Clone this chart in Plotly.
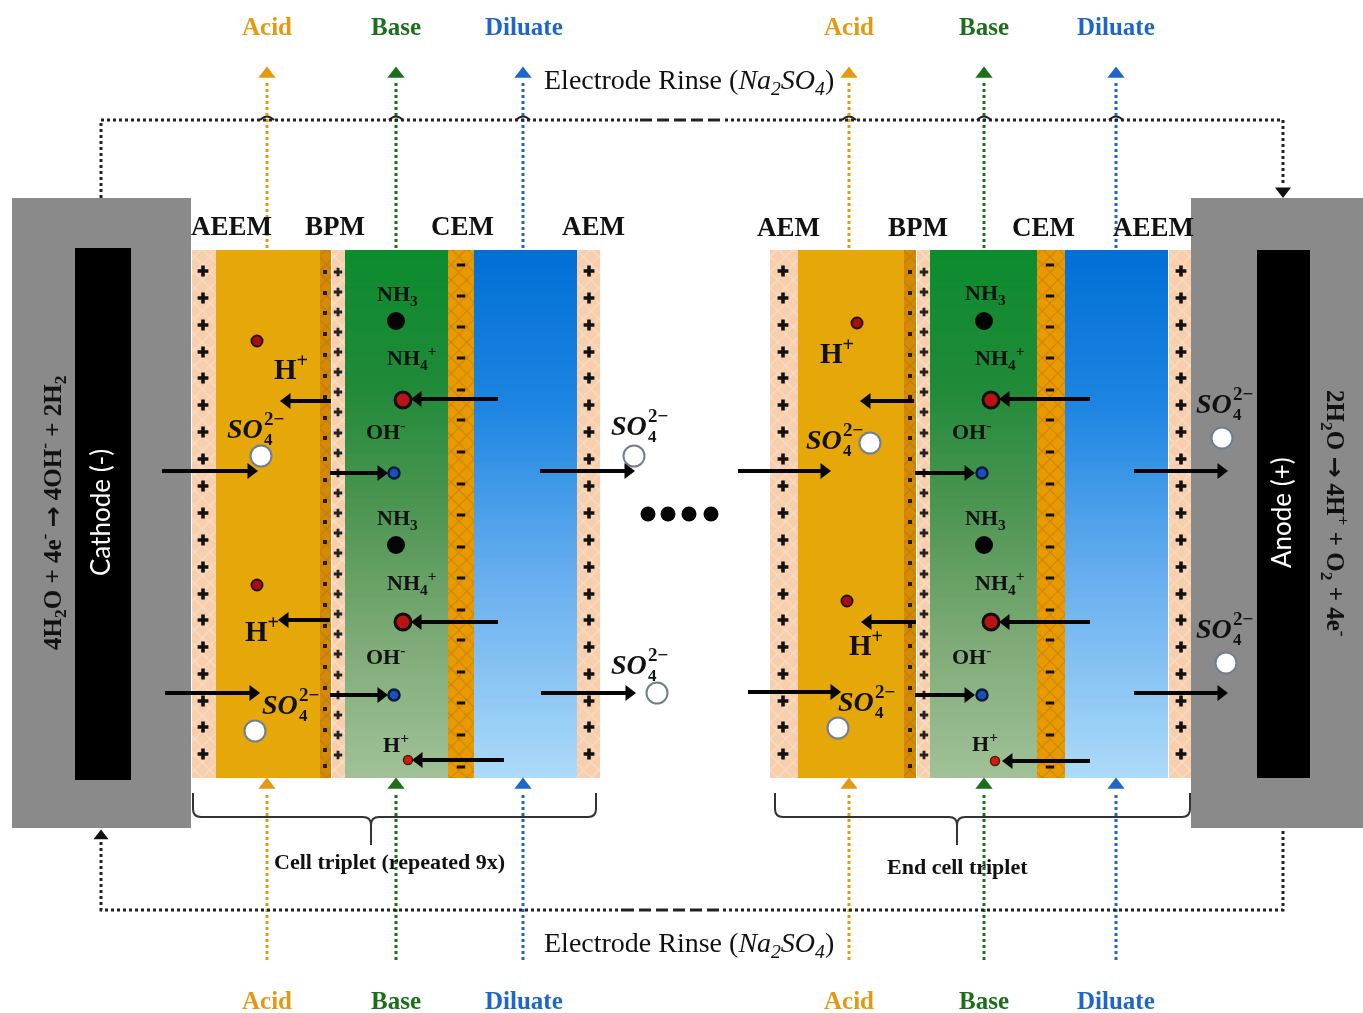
import numpy as np
import plotly.graph_objects as go

SERIF = "Liberation Serif"
SANS = "Lato"
ACID, BASE, DIL = "#E39A12", "#1B6F1B", "#1F66C8"

# ---- membrane / chamber bands: x0, x1, fill, hatch colour
Y_TOP, Y_BOT = [250, 250], [778, 778]
plain_bands = [(216, 320, "#E6A708"), (798, 904, "#E6A708")]
hatched_bands = [
    (192, 216, "#F7CFAD", "#FDEDDE"), (320, 331, "#D58A06", "#A86A04"), (332, 345, "#F7CFAD", "#FFF4EA"),
    (448, 474, "#E89A00", "#AD6E04"), (577, 600, "#F7CFAD", "#FDEDDE"),
    (770, 798, "#F7CFAD", "#FDEDDE"), (904, 916, "#D58A06", "#A86A04"), (917, 930, "#F7CFAD", "#FFF4EA"),
    (1037, 1065, "#E89A00", "#AD6E04"), (1169, 1191, "#F7CFAD", "#FDEDDE"),
]
green_bands = [(345, 448), (930, 1037)]
blue_bands = [(474, 577), (1065, 1168)]
GREEN_SCALE = [[0, "#0C8C2E"], [0.25, "#1F8A38"], [0.5, "#4F9653"], [0.75, "#7FAB78"], [1, "#A0C197"]]
BLUE_SCALE = [[0, "#006FD6"], [0.3, "#1E86E2"], [0.6, "#63ACEE"], [1, "#ACDAF9"]]

# ---- fixed charges
plus_wide_x = [203, 589, 783, 1181]
plus_wide_y = [271, 298, 325, 352, 378, 405, 432, 459, 486, 513, 540, 567, 594, 620, 647, 674, 701, 727, 754]
plus_bpm_x = [338, 924]
plus_bpm_y = [272, 292, 312, 332, 352, 372, 392, 412, 433, 453, 473, 493, 513, 533, 553, 574, 594, 614, 634, 654, 675, 695, 715, 735, 755]
dots_bpm_x = [325, 910]
dots_bpm_y = [272, 293, 313, 334, 355, 376, 397, 418, 438, 459, 480, 501, 522, 542, 563, 584, 605, 626, 646, 667, 688, 709, 730, 750, 766]
minus_x = [461, 1050]
minus_y = [265, 296, 327, 358, 390, 420, 452, 484, 515, 547, 578, 610, 640, 672, 703, 735, 767]

# ---- dotted flows
flow_x = [[267, 849], [396, 984], [523, 1116]]
flow_colors = [ACID, BASE, DIL]
FLOW_TOP_SPAN = [248, 80]
FLOW_BOT_SPAN = [960, 792]
FLOW_TOP_HEAD, FLOW_BOT_HEAD = 74, 785

# ---- electrode rinse loop
rinse_top_x, rinse_top_y = [101, 101, 1283, 1283], [198, 120, 120, 186]
rinse_bot_x, rinse_bot_y = [101, 101, 1283, 1283], [842, 910, 910, 828]
rinse_dash_top_x, rinse_dash_top_y = [640, 722], [120, 120]
rinse_dash_bot_x, rinse_dash_bot_y = [622, 722], [910, 910]

# ---- horizontal arrows: start, end, y
arrows_right = [(162, 248, 471), (330, 378, 473), (540, 625, 471), (738, 821, 471), (915, 965, 473), (1134, 1218, 471),
                (165, 250, 693), (330, 378, 695), (541, 626, 693), (748, 831, 692), (915, 965, 695), (1134, 1218, 693)]
arrows_left = [(331, 290, 401), (498, 421, 399), (330, 288, 620), (498, 421, 622), (504, 422, 760),
               (914, 870, 401), (1090, 1009, 399), (916, 871, 622), (1090, 1009, 622), (1090, 1012, 761)]

# ---- species
h_dark_x, h_dark_y = [257, 257, 857, 847], [341, 585, 323, 601]
nh3_x, nh3_y = [396, 396, 984, 984], [321, 545, 321, 545]
red_x, red_y = [403, 403, 991, 991], [400, 622, 400, 622]
blue_x, blue_y = [394, 394, 982, 982], [473, 695, 473, 695]
hs_x, hs_y = [408, 995], [760, 761]
so4_x, so4_y = [261, 634, 870, 1222, 255, 657, 838, 1226], [456, 456, 443, 438, 731, 693, 728, 663]
ell_x, ell_y = [648, 668, 689, 711], [514, 514, 514, 514]

# ---- labels
header_labels = ["AEEM", "BPM", "CEM", "AEM", "AEM", "BPM", "CEM", "AEEM"]
header_x = [231, 335, 462, 593, 788, 918, 1043, 1153]
header_y = [226, 226, 226, 226, 227, 227, 227, 227]
stream_labels = ["Acid", "Base", "Diluate", "Acid", "Base", "Diluate"]
stream_x = [267, 396, 524, 849, 984, 1116]
stream_colors = [ACID, BASE, DIL, ACID, BASE, DIL]
stream_y = [26, 1000]
so4_label_x = [225, 609, 804, 1194, 260, 609, 836, 1194]
so4_label_y = [428, 425, 439, 403, 704, 664, 701, 628]
chem_text = ["NH<sub>3</sub>", "NH<sub>4</sub><sup>+</sup>", "OH<sup>-</sup>"] * 4
chem_x = [397, 411, 385, 397, 411, 385, 985, 999, 971, 985, 999, 971]
chem_y = [295, 357, 430, 519, 582, 655, 294, 357, 430, 519, 582, 655]
h_big_x, h_big_y = [291, 262, 837, 866], [367, 629, 351, 643]
h_small_x, h_small_y = [396, 985], [743, 742]

fig = go.Figure()

# flows
for xs, col in zip(flow_x, flow_colors):
    for x in xs:
        for span in (FLOW_TOP_SPAN, FLOW_BOT_SPAN):
            fig.add_trace(go.Scatter(x=[x, x], y=span, mode="lines", line=dict(color=col, width=3, dash="dot"), hoverinfo="skip"))
    fig.add_trace(go.Scatter(x=xs + xs, y=[FLOW_TOP_HEAD] * 2 + [FLOW_BOT_HEAD] * 2, mode="markers",
                             marker=dict(symbol="triangle-up", size=15, color=col), hoverinfo="skip"))

# rinse loop
for xs, ys in ((rinse_top_x, rinse_top_y), (rinse_bot_x, rinse_bot_y)):
    fig.add_trace(go.Scatter(x=xs, y=ys, mode="lines", line=dict(color="#222222", width=3, dash="dot"), hoverinfo="skip"))
for xs, ys in ((rinse_dash_top_x, rinse_dash_top_y), (rinse_dash_bot_x, rinse_dash_bot_y)):
    fig.add_trace(go.Scatter(x=xs, y=ys, mode="lines", line=dict(color="white", width=5), hoverinfo="skip"))
    fig.add_trace(go.Scatter(x=xs, y=ys, mode="lines", line=dict(color="#222222", width=3, dash="12px,5px"), hoverinfo="skip"))
fig.add_trace(go.Scatter(x=[1283], y=[191], mode="markers", marker=dict(symbol="triangle-down", size=14, color="#111111"), hoverinfo="skip"))
fig.add_trace(go.Scatter(x=[101], y=[836], mode="markers", marker=dict(symbol="triangle-up", size=13, color="#111111"), hoverinfo="skip"))

# chambers
for x0, x1, col in plain_bands:
    fig.add_trace(go.Bar(x=[(x0 + x1) / 2], y=[Y_BOT[0] - Y_TOP[0]], base=[Y_TOP[0]], width=[x1 - x0],
                         marker=dict(color=col, line_width=0), hoverinfo="skip"))
for bands, scale in ((green_bands, GREEN_SCALE), (blue_bands, BLUE_SCALE)):
    rows = np.linspace(Y_TOP[0], Y_BOT[0], 133)
    z = [[v] for v in np.linspace(0, 1, 132)]
    for x0, x1 in bands:
        fig.add_trace(go.Heatmap(x=[x0, x1], y=rows, z=z, colorscale=scale, zmin=0, zmax=1, showscale=False, hoverinfo="skip"))
for x0, x1, col, fg in hatched_bands:
    fig.add_trace(go.Bar(x=[(x0 + x1) / 2], y=[Y_BOT[0] - Y_TOP[0]], base=[Y_TOP[0]], width=[x1 - x0],
                         marker=dict(color=col, line_width=0, pattern=dict(shape="x", fgcolor=fg, bgcolor=col, size=11, solidity=0.2)),
                         hoverinfo="skip"))

# charges
def markers(xs, ys, symbol, size, color="black", lc=None, lw=0):
    fig.add_trace(go.Scatter(x=xs, y=ys, mode="markers", hoverinfo="skip",
                             marker=dict(symbol=symbol, size=size, color=color, line=dict(color=lc or color, width=lw))))

for x in plus_wide_x:
    markers([x] * len(plus_wide_y), plus_wide_y, "cross", 9, "#111111")
for x in plus_bpm_x:
    markers([x] * len(plus_bpm_y), plus_bpm_y, "cross", 7, "#222222")
for x in dots_bpm_x:
    markers([x] * len(dots_bpm_y), dots_bpm_y, "square", 4, "#2A1A00")
for x in minus_x:
    markers([x] * len(minus_y), minus_y, "line-ew", 6, "#111111", "#111111", 3)

# species
markers(h_dark_x, h_dark_y, "circle", 11, "#A80F0F", "#2A1000", 2)
markers(nh3_x, nh3_y, "circle", 18, "#050505")
markers(red_x, red_y, "circle", 16, "#B81414", "#101010", 3)
markers(blue_x, blue_y, "circle", 11, "#1A4FC4", "#0A1A33", 2.5)
markers(hs_x, hs_y, "circle", 9, "#E01414", "#3A2A00", 1.5)
markers(so4_x, so4_y, "circle", 21, "white", "#6F7F8F", 2)
markers(ell_x, ell_y, "circle", 15, "#050505")

# arrows
def arrows(items, symbol, sign):
    lx, ly, hx, hy = [], [], [], []
    for a, b, y in items:
        lx += [a, b, None]
        ly += [y, y, None]
        hx.append(b + sign * 3)
        hy.append(y)
    fig.add_trace(go.Scatter(x=lx, y=ly, mode="lines", line=dict(color="#050505", width=4), hoverinfo="skip"))
    markers(hx, hy, symbol, 14, "#050505")

arrows(arrows_right, "triangle-right", 1)
arrows(arrows_left, "triangle-left", -1)

shapes = [
    dict(type="rect", x0=12, x1=191, y0=198, y1=828, fillcolor="#8A8A8A", line_width=0, layer="below"),
    dict(type="rect", x0=1191, x1=1363, y0=198, y1=828, fillcolor="#8A8A8A", line_width=0, layer="below"),
    dict(type="rect", x0=75, x1=131, y0=248, y1=780, fillcolor="#000000", line_width=0, layer="below"),
    dict(type="rect", x0=1257, x1=1310, y0=250, y1=778, fillcolor="#000000", line_width=0, layer="below"),
    dict(type="path", path="M193,793 V809 Q193,817 201,817 H363 Q371,817 371,825 V845 M371,825 Q371,817 379,817 H588 Q596,817 596,809 V793",
         line=dict(color="#333333", width=2)),
    dict(type="path", path="M775,793 V809 Q775,817 783,817 H949 Q957,817 957,825 V845 M957,825 Q957,817 965,817 H1182 Q1190,817 1190,809 V793",
         line=dict(color="#333333", width=2)),
]
for xs in flow_x:
    for x in xs:
        shapes.append(dict(type="path", path=f"M{x-7},120 Q{x},113 {x+7},120", line=dict(color="#222222", width=2), layer="below"))

anns = []
def label(x, y, text, size=24, color="#111111", bold=True, rot=0, family=SERIF, xanchor="center", italic=False):
    anns.append(dict(x=x, y=y, xref="x", yref="y", text=text, showarrow=False,
                     font=dict(family=family, size=size, color=color, weight="bold" if bold else "normal",
                               style="italic" if italic else "normal"),
                     textangle=rot, xanchor=xanchor, yanchor="middle"))

for t, x, y in zip(header_labels, header_x, header_y):
    label(x, y, t, 27)
for t, x, c in zip(stream_labels, stream_x, stream_colors):
    for y in stream_y:
        label(x, y, t, 25, c)
for x, y in zip(so4_label_x, so4_label_y):
    label(x, y, "SO", 28, xanchor="left", italic=True)
    label(x + 37, y - 10, "2−", 19, xanchor="left")
    label(x + 37, y + 11, "4", 17, xanchor="left")
for t, x, y in zip(chem_text, chem_x, chem_y):
    label(x, y, t, 22)
for x, y in zip(h_big_x, h_big_y):
    label(x, y, "H<sup>+</sup>", 29)
for x, y in zip(h_small_x, h_small_y):
    label(x, y, "H<sup>+</sup>", 22)
RINSE = "Electrode Rinse (<i>Na<sub>2</sub>SO<sub>4</sub></i>)"
label(689, 81, RINSE, 28, bold=False)
label(689, 944, RINSE, 28, bold=False)
label(389, 861, "Cell triplet (repeated 9x)", 22)
label(957, 866, "End cell triplet", 22)
label(100, 513, "Cathode (-)", 26, "white", False, -90, SANS)
label(1281, 513, "Anode (+)", 26, "white", False, -90, SANS)
ARROW = '<span style="font-family:DejaVu Sans">→</span>'
label(52, 513, f"4H<sub>2</sub>O + 4e<sup>-</sup> {ARROW} 4OH<sup>-</sup> + 2H<sub>2</sub>", 25, rot=-90)
label(1335, 513, f"2H<sub>2</sub>O {ARROW} 4H<sup>+</sup> + O<sub>2</sub> + 4e<sup>-</sup>", 25, rot=90)

fig.update_layout(
    width=1363, height=1013, margin=dict(l=0, r=0, t=0, b=0), showlegend=False, barmode="overlay",
    paper_bgcolor="white", plot_bgcolor="white", shapes=shapes, annotations=anns,
    xaxis=dict(range=[0, 1363], visible=False, fixedrange=True),
    yaxis=dict(range=[1013, 0], visible=False, fixedrange=True),
)
fig.write_html("out.html", config=dict(displayModeBar=False),
               post_script="document.body.style.margin='0';document.body.style.overflow='hidden';"
                           "document.querySelector('.plot-container').style.filter='blur(0.6px)';")
